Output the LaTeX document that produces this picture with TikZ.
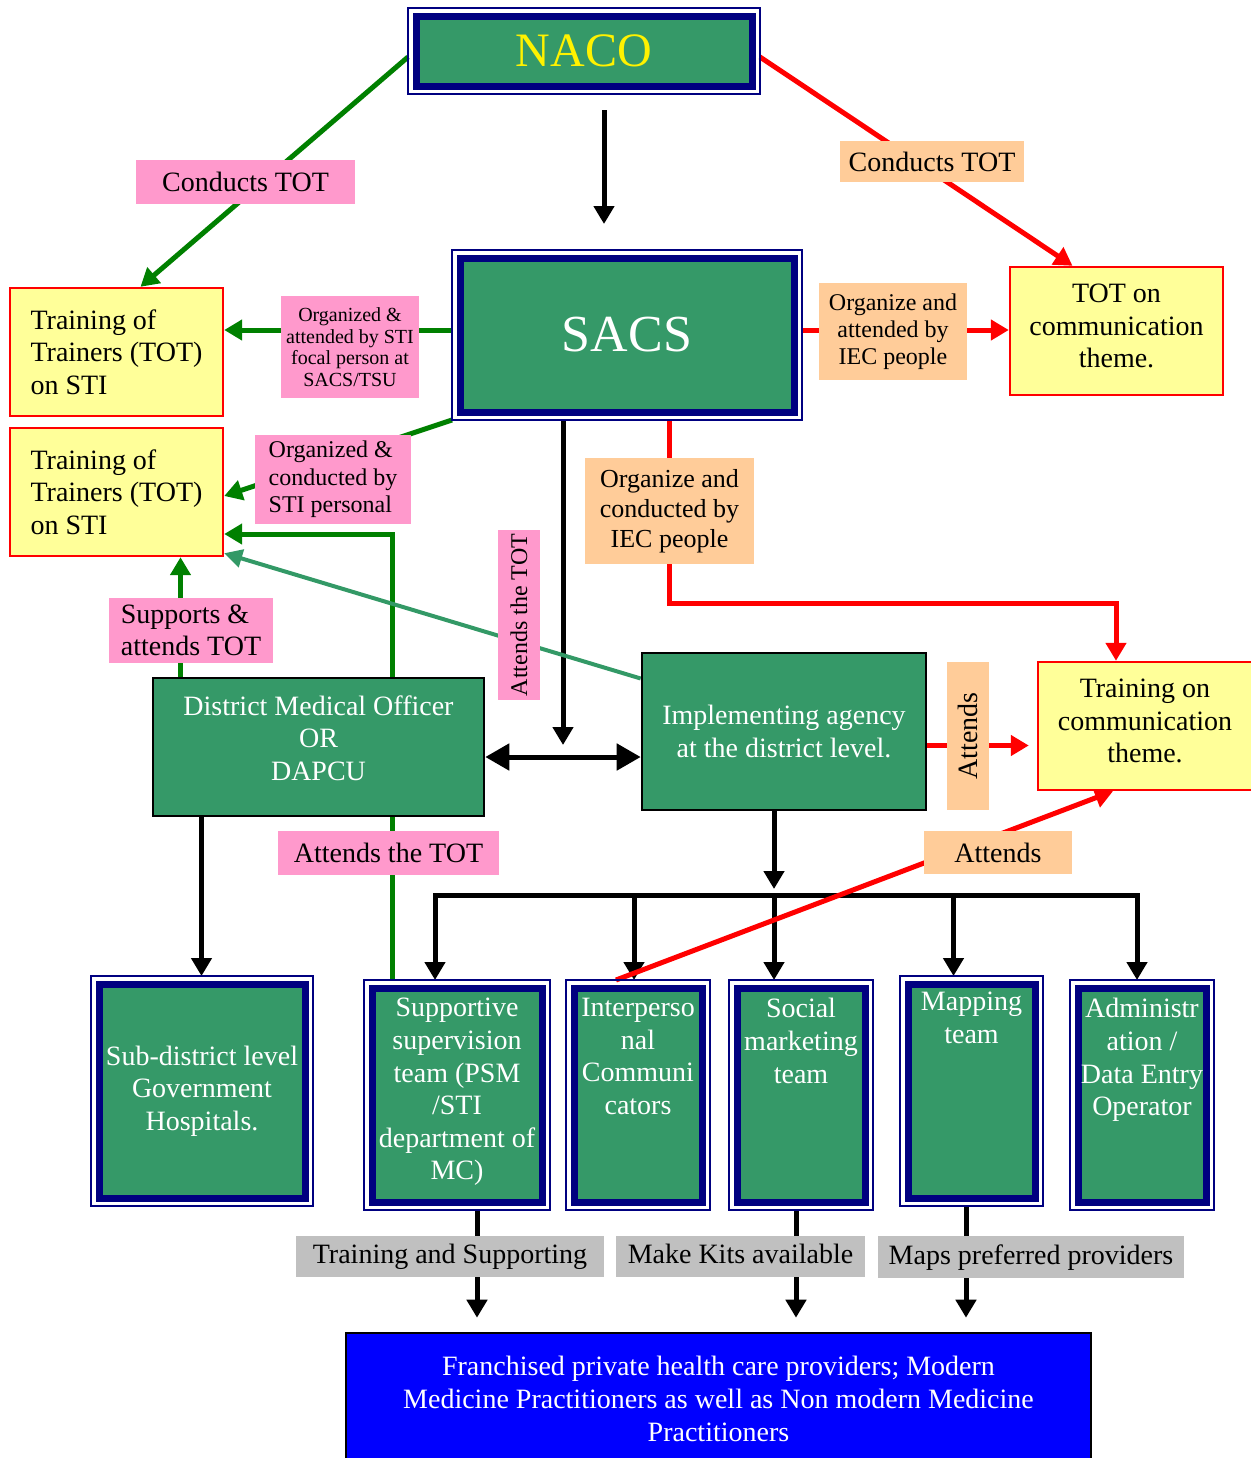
\documentclass[tikz,border=0pt]{standalone}
\usepackage{fontspec}
\setmainfont{Liberation Serif}
\usetikzlibrary{arrows.meta,positioning,calc}
\definecolor{boxgreen}{RGB}{53,153,104}
\definecolor{navyline}{RGB}{0,0,128}
\definecolor{paleyellow}{RGB}{255,255,153}
\definecolor{pinklbl}{RGB}{255,153,204}
\definecolor{peachlbl}{RGB}{255,204,153}
\definecolor{greylbl}{RGB}{192,192,192}
\definecolor{arrgreen}{RGB}{0,128,0}
\definecolor{arrteal}{RGB}{51,153,102}
\pgfdeclarelayer{bg}
\pgfsetlayers{bg,main}
\newcommand{\fsz}[2]{\fontsize{#1}{#2}\selectfont}
\tikzset{
  nbox/.style={draw=navyline,line width=3.5pt,fill=boxgreen,outer sep=4pt,inner sep=0pt},
  gbox/.style={draw=black,line width=1.3pt,fill=boxgreen,text=white,align=center,font=\fsz{14}{16.3}},
  ybox/.style={draw=red,line width=1.2pt,fill=paleyellow,align=center,font=\fsz{14}{16.3}},
  wtxt/.style={text=white,align=center,inner sep=1pt,font=\fsz{14}{16.3}},
  lbl/.style={inner sep=0pt,align=center,font=\fsz{14}{16.3}},
  pinkl/.style={lbl,fill=pinklbl},
  peachl/.style={lbl,fill=peachlbl},
  greyl/.style={lbl,fill=greylbl,text height=10pt,text depth=3pt},
  blk/.style={line width=2.5pt,-{Triangle[width=10pt,length=9pt]}},
  grn/.style={arrgreen,line width=2.5pt,-{Triangle[width=10pt,length=9pt]}},
  rd/.style={red,line width=2.5pt,-{Triangle[width=10pt,length=9pt]}},
}
\begin{document}
\begin{tikzpicture}[x=0.5pt,y=-0.5pt]
\useasboundingbox (0,0) rectangle (1250,1458);
% top level
\node[nbox,minimum width=168pt,minimum height=35pt,text=yellow,font=\fsz{24}{28}] (naco) at (584,51) {NACO};
\node[nbox,minimum width=167pt,minimum height=77pt,text=white,font=\fsz{26}{30}] (sacs) at (627,335) {SACS};
% training boxes
\node[ybox,minimum width=106.5pt,minimum height=64pt,align=left] (tot1) at (116.5,352) {Training of\\Trainers (TOT)\\on STI};
\node[ybox,minimum width=106.5pt,minimum height=64pt,align=left] (tot2) at (116.5,492) {Training of\\Trainers (TOT)\\on STI};
\node[ybox,minimum width=106.5pt,minimum height=64pt,text depth=5pt] (totc) at (1116.5,331) {TOT on\\communication\\theme.};
\node[ybox,minimum width=107pt,minimum height=64pt,text depth=5pt] (trc) at (1145,726) {Training on\\communication\\theme.};
% district level
\node[gbox,minimum width=165.5pt,minimum height=69pt,text depth=9pt] (dmo) at (318.5,747) {District Medical Officer\\OR\\DAPCU};
\node[gbox,minimum width=142pt,minimum height=78.5pt] (ia) at (784,731.5) {Implementing agency\\at the district level.};
% field level
\node[nbox,minimum width=103pt,minimum height=107pt,text=white,align=center,font=\fsz{14}{16.3}] (sub) at (202,1091) {Sub-district level\\Government\\Hospitals.};
\node[nbox,minimum width=85pt,minimum height=107pt] (ss) at (457,1095) {};
\node[nbox,minimum width=64pt,minimum height=107pt] (ipc) at (638,1095) {};
\node[nbox,minimum width=64pt,minimum height=107pt] (sm) at (801,1095) {};
\node[nbox,minimum width=63.5pt,minimum height=107pt] (mp) at (971.5,1091) {};
\node[nbox,minimum width=64pt,minimum height=107pt] (adm) at (1142,1095) {};
\foreach \n in {naco,sacs,sub,ss,ipc,sm,mp,adm}
  \draw[navyline,line width=0.8pt] (\n.north west) rectangle (\n.south east);
\node[wtxt,below=8pt of ss.north] (ss-t) {Supportive\\supervision\\team (PSM\\/STI\\department of\\MC)};
\node[wtxt,below=8pt of ipc.north] (ipc-t) {Interperso\\nal\\Communi\\cators};
\node[wtxt,below=8pt of sm.north] (sm-t) {Social\\marketing\\team};
\node[wtxt,below=7pt of mp.north] (mp-t) {Mapping\\team};
\node[wtxt,below=8pt of adm.north] (adm-t) {Administr\\ation /\\Data Entry\\Operator};
\node[draw=black,line width=1.3pt,fill=blue,text=white,align=center,font=\fsz{14}{16.3},minimum width=372.5pt,minimum height=66pt] (fp) at (718.5,1399) {Franchised private health care providers; Modern\\Medicine Practitioners as well as Non modern Medicine\\Practitioners};
% labels
\node[pinkl,minimum width=109.5pt,minimum height=22pt] (conductsL) at (245.5,182) {Conducts TOT};
\node[peachl,minimum width=92pt,minimum height=20.5pt] (conductsR) at (932,161.5) {Conducts TOT};
\node[pinkl,minimum width=69pt,minimum height=51pt,font=\fsz{10}{10.8}] (orgfocal) at (350,347) {Organized \&\\attended by STI\\focal person at\\SACS/TSU};
\node[peachl,minimum width=74pt,minimum height=48.5pt,font=\fsz{12}{13.5}] (orgiec) at (893,331.5) {Organize and\\attended by\\IEC people};
\node[pinkl,minimum width=78pt,minimum height=44.5pt,font=\fsz{12}{13.75},align=left] (orgsti) at (333,479.5) {Organized \&\\conducted by\\STI personal};
\node[peachl,minimum width=84.5pt,minimum height=53pt,font=\fsz{13}{15}] (condiec) at (669.5,511) {Organize and\\conducted by\\IEC people};
\node[pinkl,rotate=90,minimum width=85pt,minimum height=21pt,font=\fsz{12}{14}] (attendsV) at (519,615) {Attends the TOT};
\node[pinkl,minimum width=82pt,minimum height=32.5pt,align=left] (supports) at (191,630.5) {Supports \&\\attends TOT};
\node[peachl,rotate=90,minimum width=74pt,minimum height=21pt] (attendsIA) at (968,736) {Attends};
\node[pinkl,minimum width=110.5pt,minimum height=22pt] (attendsH) at (388.5,853) {Attends the TOT};
\node[peachl,minimum width=74pt,minimum height=21.5pt] (attendsIPC) at (998,852.5) {Attends};
\node[greyl,minimum width=154pt,minimum height=20.5pt] (trsup) at (450,1256.5) {Training and Supporting};
\node[greyl,minimum width=124.5pt,minimum height=20.5pt] (kits) at (740.5,1256.5) {Make Kits available};
\node[greyl,minimum width=153pt,minimum height=21pt] (maps) at (1031,1257) {Maps preferred providers};
% connectors
\begin{pgfonlayer}{bg}
\path ([xshift=10pt]naco.south) coordinate (na1);
\draw[blk,shorten <=8pt,shorten >=13pt] (na1) -- (na1 |- sacs.north);
\draw[blk] ([xshift=-32pt]sacs.south) -- ([xshift=-32pt,yshift=1pt]sacs.south |- dmo.east);
\draw[line width=2.5pt,{Triangle[width=13pt,length=12pt]}-{Triangle[width=13pt,length=12pt]}] ([yshift=-5pt]dmo.east) -- ([yshift=-5pt]dmo.east -| ia.west);
\draw[blk] ([xshift=-58.5pt]dmo.south) -- ([xshift=-58.5pt]dmo.south |- sub.north);
\coordinate (busL) at (435,895);
\coordinate (busR) at (1137,895);
\draw[line width=2.5pt,line cap=rect] (busL) -- (busR);
\draw[blk,shorten >=3pt] ([xshift=-5pt]ia.south) -- ([xshift=-5pt]ia.south |- busL);
\foreach \n/\dx in {ss/-11pt,ipc/-2pt,sm/-13.5pt,mp/-9pt,adm/-2.5pt}
  \draw[blk] ([xshift=\dx]\n.north |- busL) -- ([xshift=\dx]\n.north);
\foreach \n/\dx in {ss/10pt,sm/-2.5pt,mp/-2.75pt}
  \draw[blk,shorten >=7pt] ([xshift=\dx]\n.south) -- ([xshift=\dx]\n.south |- fp.north);
% green
\draw[grn] ([yshift=-3pt]naco.west) -- ([xshift=12pt]tot1.north);
\draw[grn] ([yshift=2.5pt]sacs.west) -- ([yshift=2.5pt]sacs.west -| tot1.east);
\draw[grn] (sacs.south west) -- ([yshift=-2pt]tot2.east);
\draw[grn] ([xshift=-69pt]dmo.north) -- ([xshift=-69pt]dmo.north |- tot2.south);
\draw[grn] ([xshift=-32.5pt]ss.north) |- ([yshift=-21pt]tot2.east);
\draw[arrteal,line width=2pt,-{Triangle[width=9pt,length=9pt]}] ([yshift=26.5pt]ia.west) -- ([yshift=2pt]tot2.south east);
% red
\draw[rd] ([yshift=-3pt]naco.east) -- ([xshift=-22pt]totc.north);
\draw[rd] ([yshift=2.5pt]sacs.east) -- ([yshift=2.5pt]sacs.east -| totc.west);
\draw[rd] ([xshift=21pt]sacs.south) |- ([xshift=-14.5pt,yshift=28.5pt]trc.north) -- ([xshift=-14.5pt]trc.north);
\draw[rd,shorten >=4pt] ([yshift=-7pt]ia.east) -- ([yshift=-7pt]ia.east -| trc.west);
\draw[rd] ([xshift=-11pt]ipc.north) -- ([xshift=-16pt]trc.south);
\end{pgfonlayer}
\end{tikzpicture}
\end{document}
